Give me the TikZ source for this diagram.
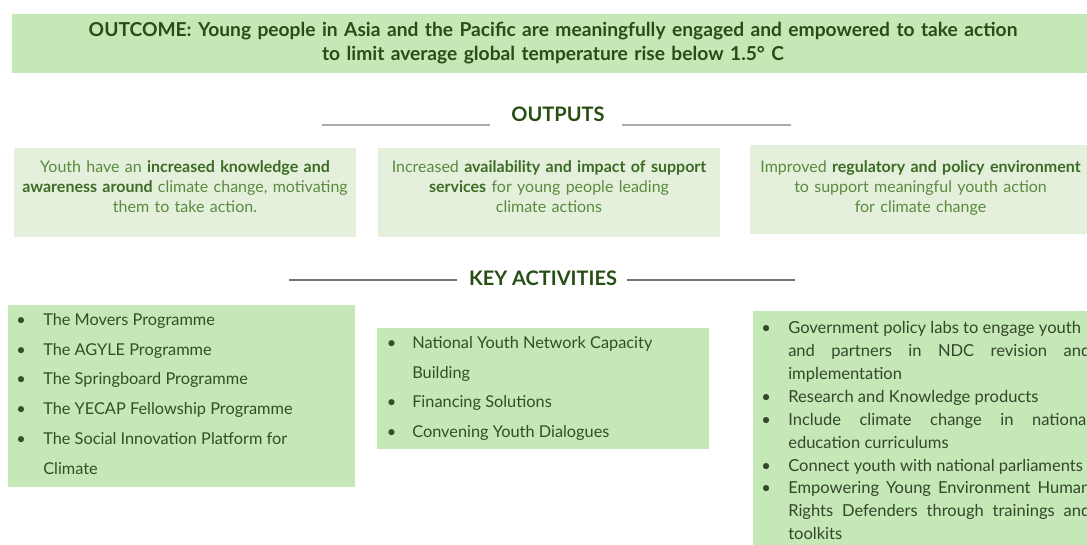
\documentclass[tikz,border=0pt]{standalone}
\usepackage{fontspec}
\setmainfont{Lato}
\usepackage{enumitem}
\usetikzlibrary{positioning}
\definecolor{boxgreen}{HTML}{C5E8B7}
\definecolor{palegreen}{HTML}{E4F0DB}
\definecolor{darkgreen}{HTML}{274E13}
\definecolor{midgreen}{HTML}{5A8A3E}
\definecolor{boldgreen}{HTML}{3B6B24}
\definecolor{actgreen}{HTML}{2F5220}
\definecolor{actgray}{HTML}{33472A}
\newcommand{\hl}[1]{\textbf{\color{boldgreen}#1}}
\tikzset{
	outcomebox/.style={fill=boxgreen, inner sep=0pt, minimum width=811.5pt,
		minimum height=44.25pt, text width=800pt, align=center,
		text=darkgreen, font=\bfseries\fontsize{14.4}{18}\selectfont},
	outputbox/.style={fill=palegreen, inner sep=0pt, minimum width=256.5pt,
		minimum height=66.75pt, text width=256pt, align=center,
		text=midgreen, font=\fontsize{12}{15}\selectfont},
	actbox/.style={fill=boxgreen, anchor=north west, inner xsep=0pt,
		inner ysep=6pt, text=actgreen,
		font=\fontsize{12.25}{22.35}\selectfont},
	heading/.style={text=darkgreen, font=\bfseries\fontsize{15}{17}\selectfont},
	outrule/.style={draw=black!33, line width=1.5pt},
	actrule/.style={draw=black!55, line width=0.8pt},
}
\setlist[itemize]{label=\textbullet, itemsep=0pt, topsep=0pt, parsep=0pt,
	partopsep=0pt, leftmargin=26.25pt, labelsep=13pt}

\begin{document}
\begin{tikzpicture}[x=0.75pt, y=-0.75pt]
	\useasboundingbox (0,0) rectangle (1087,544);
	\clip (0,0) rectangle (1087,544);
	% outcome
	\node[outcomebox] (outcome) at (553,43.5) {OUTCOME: Young people in Asia and the Pacific are meaningfully engaged and empowered to take action\\
		to limit average global temperature rise below 1.5° C};
	% outputs
	\node[heading] (outputs) at (558,114) {OUTPUTS};
	\draw[outrule] (322,125) -- (490,125);
	\draw[outrule] (622,125) -- (791,125);
	\node[outputbox] (knowledge) at (185,192.5) {Youth have an \hl{increased knowledge and}\\
		\hl{awareness around} climate change, motivating\\
		them to take action.\par\vspace{9pt}};
	\node[outputbox] (support) at (549,192.5) {Increased \hl{availability and impact of support}\\
		\hl{services} for young people leading\\
		climate actions\par\vspace{9pt}};
	\node[outputbox] (policy) at (920.5,189.5) {Improved \hl{regulatory and policy environment}\\
		to support meaningful youth action\\
		for climate change\par\vspace{1.5pt}};
	% key activities
	\node[heading] (activities) at (543,278) {KEY ACTIVITIES};
	\draw[actrule] (289,280) -- (457,280);
	\draw[actrule] (627,280) -- (795,280);
	\node[actbox] (programmes) at (8,305) {%
		\begin{minipage}[c][124.5pt][t]{260.25pt}\raggedright
		\begin{itemize}
			\item The Movers Programme
			\item The AGYLE Programme
			\item The Springboard Programme
			\item The YECAP Fellowship Programme
			\item The Social Innovation Platform for\newline Climate
		\end{itemize}
		\end{minipage}};
	\node[actbox] (network) at (377,328) {%
		\begin{minipage}[c][78.75pt][t]{249pt}\raggedright
		\begin{itemize}[labelsep=12pt]
			\item National Youth Network Capacity\newline Building
			\item Financing Solutions
			\item Convening Youth Dialogues
		\end{itemize}
		\end{minipage}};
	\node[actbox, text=actgray, font=\fontsize{12.4}{17.2}\selectfont] (government) at (753,311) {%
		\begin{minipage}{252.75pt}
		\vspace*{1.5pt}
		\begin{itemize}
			\item \mbox{Government policy labs to engage youth}\linebreak and partners in NDC revision and\linebreak implementation
			\item Research and Knowledge products
			\item Include climate change in national\linebreak education curriculums
			\item Connect youth with national parliaments
			\item Empowering Young Environment Human\linebreak Rights Defenders through trainings and\linebreak toolkits
		\end{itemize}
		\end{minipage}};
\end{tikzpicture}
\end{document}
